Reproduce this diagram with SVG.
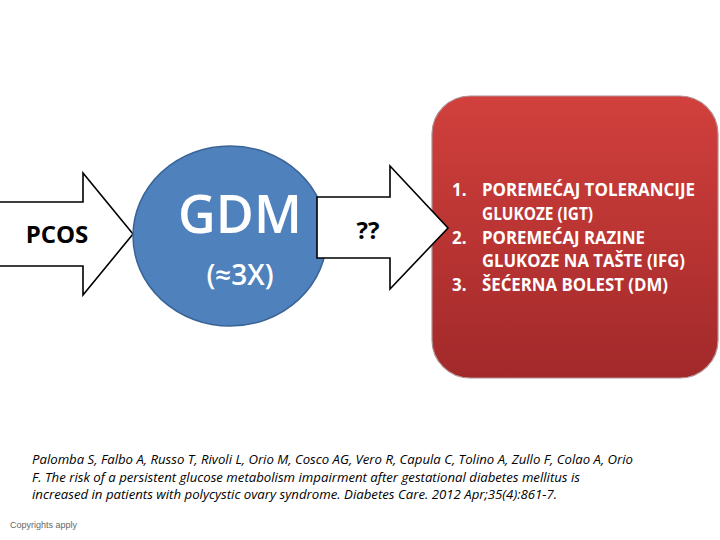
<svg xmlns="http://www.w3.org/2000/svg" width="720" height="540" viewBox="0 0 720 540">
<defs>
<linearGradient id="redGrad" x1="0" y1="0" x2="0" y2="1">
<stop offset="0" stop-color="#d1403c"/>
<stop offset="1" stop-color="#a2292a"/>
</linearGradient>
</defs>
<style>
.arrow{fill:#ffffff;stroke:#000000;stroke-width:1.6;stroke-linejoin:miter}
.lbl{font-family:"Open Sans","Liberation Sans",sans-serif;font-weight:700;fill:#000000}
.white{font-family:"Open Sans","Liberation Sans",sans-serif;font-weight:600;fill:#ffffff}
.item{font-family:"Open Sans","Liberation Sans",sans-serif;font-weight:700;fill:#ffffff;font-size:17px}
.cite{font-family:"Open Sans","Liberation Sans",sans-serif;font-style:italic;fill:#000000;font-size:12.5px}
</style>
<rect width="720" height="540" fill="#ffffff"/>
<g id="pcos">
<path class="arrow" d="M-2,202 H83 V173 L133,234 L83,295 V266 H-2 Z"/>
<text class="lbl" x="57" y="243" font-size="24" text-anchor="middle">PCOS</text>
</g>
<g id="gdm">
<ellipse cx="230" cy="236" rx="97" ry="90" fill="#4f81bd" stroke="#3b6496" stroke-width="1.5"/>
<text class="white" x="240" y="233" font-size="52" text-anchor="middle">GDM</text>
<text class="white" x="240" y="285" font-size="28" text-anchor="middle">(≈3X)</text>
</g>
<g id="outcomes">
<rect x="432" y="96" width="286" height="282" rx="38" ry="38" fill="url(#redGrad)" stroke="#b09090" stroke-width="1.2"/>
<text class="item" x="452" y="196">1.</text>
<text class="item" x="482" y="196" textLength="213" lengthAdjust="spacingAndGlyphs">POREMEĆAJ TOLERANCIJE</text>
<text class="item" x="482" y="220" textLength="111" lengthAdjust="spacingAndGlyphs">GLUKOZE (IGT)</text>
<text class="item" x="452" y="244">2.</text>
<text class="item" x="482" y="244" textLength="163" lengthAdjust="spacingAndGlyphs">POREMEĆAJ RAZINE</text>
<text class="item" x="482" y="267" textLength="203" lengthAdjust="spacingAndGlyphs">GLUKOZE NA TAŠTE (IFG)</text>
<text class="item" x="452" y="291">3.</text>
<text class="item" x="482" y="291" textLength="186" lengthAdjust="spacingAndGlyphs">ŠEĆERNA BOLEST (DM)</text>
</g>
<g id="connectors">
<g id="unknown">
<path class="arrow" d="M317,197 H390 V166 L448,228 L390,289 V258 H317 Z"/>
<text class="lbl" x="368" y="239" font-size="24" text-anchor="middle">??</text>
</g>
</g>
<g id="citation">
<text class="cite" x="32" y="464" textLength="601" lengthAdjust="spacingAndGlyphs">Palomba S, Falbo A, Russo T, Rivoli L, Orio M, Cosco AG, Vero R, Capula C, Tolino A, Zullo F, Colao A, Orio</text>
<text class="cite" x="32" y="482" textLength="548" lengthAdjust="spacingAndGlyphs">F. The risk of a persistent glucose metabolism impairment after gestational diabetes mellitus is</text>
<text class="cite" x="32" y="499" textLength="525" lengthAdjust="spacingAndGlyphs">increased in patients with polycystic ovary syndrome. Diabetes Care. 2012 Apr;35(4):861-7.</text>
</g>
<text x="10" y="528" font-family="'Liberation Sans',sans-serif" font-size="9" fill="#666666">Copyrights apply</text>
</svg>
